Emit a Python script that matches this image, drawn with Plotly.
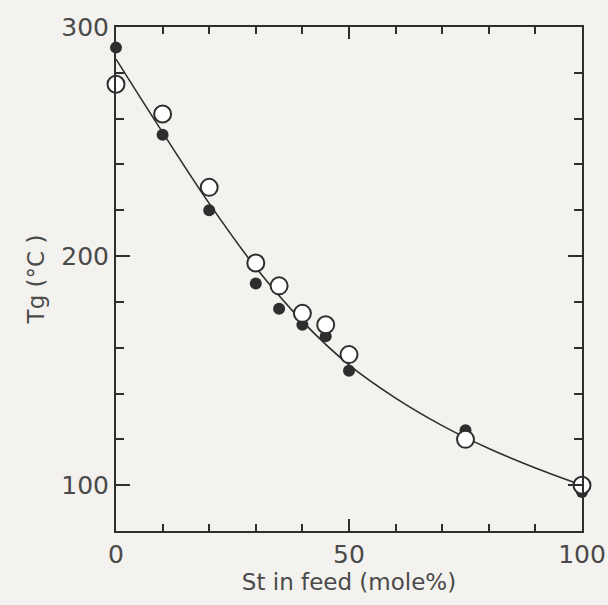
import plotly.graph_objects as go

# Data
st_filled = [0, 10, 20, 30, 35, 40, 45, 50, 75, 100]
tg_filled = [291, 253, 220, 188, 177, 170, 165, 150, 124, 97]

st_open = [0, 10, 20, 30, 35, 40, 45, 50, 75, 100]
tg_open = [275, 262, 230, 197, 187, 175, 170, 157, 120, 100]

curve_x = [0, 10, 20, 30, 40, 50, 60, 70, 80, 90, 100]
curve_y = [286, 254, 223, 195, 171.5, 152.5, 138, 126, 116, 107.5, 100]

x_ticks = [0, 50, 100]
y_ticks = [100, 200, 300]

FONT = "DejaVu Sans"
INK = "#2e2e2e"
TXT = "#4a4a4a"
BG = "#f4f2ee"

fig = go.Figure()
fig.add_trace(go.Scatter(x=curve_x, y=curve_y, mode="lines",
                         line=dict(color=INK, width=1.6, shape="spline", smoothing=1.0),
                         hoverinfo="skip", showlegend=False, cliponaxis=False))
fig.add_trace(go.Scatter(x=st_filled, y=tg_filled, mode="markers",
                         marker=dict(symbol="circle", size=12, color=INK,
                                     line=dict(color=INK, width=0)),
                         showlegend=False, cliponaxis=False))
fig.add_trace(go.Scatter(x=st_open, y=tg_open, mode="markers",
                         marker=dict(symbol="circle", size=17, color="white",
                                     line=dict(color=INK, width=2)),
                         showlegend=False, cliponaxis=False))

axis_common = dict(showgrid=False, zeroline=False, showline=True, linecolor=INK,
                   linewidth=2, mirror="ticks", ticks="inside", tickcolor=INK,
                   tickwidth=1.6, tickfont=dict(family=FONT, size=25, color=TXT))

fig.update_xaxes(range=[0, 100], tickvals=x_ticks, ticklen=12,
                 minor=dict(dtick=10, ticks="inside", ticklen=7, tickcolor=INK, tickwidth=1.6),
                 title=dict(text="St in feed (mole%)", font=dict(family=FONT, size=23, color=TXT),
                            standoff=2),
                 **axis_common)
fig.update_yaxes(range=[80, 300], tickvals=y_ticks, ticklen=14,
                 minor=dict(dtick=20, ticks="inside", ticklen=8, tickcolor=INK, tickwidth=1.6),
                 title=dict(text="Tg (°C )", font=dict(family=FONT, size=23, color=TXT),
                            standoff=10),
                 **axis_common)

fig.update_layout(width=608, height=605,
                  margin=dict(l=116, r=26, t=27, b=74, autoexpand=False),
                  paper_bgcolor=BG, plot_bgcolor=BG)

fig.write_html("out.html", config={"displayModeBar": False},
               post_script="document.body.style.margin='0';document.body.style.background='%s';" % BG)
